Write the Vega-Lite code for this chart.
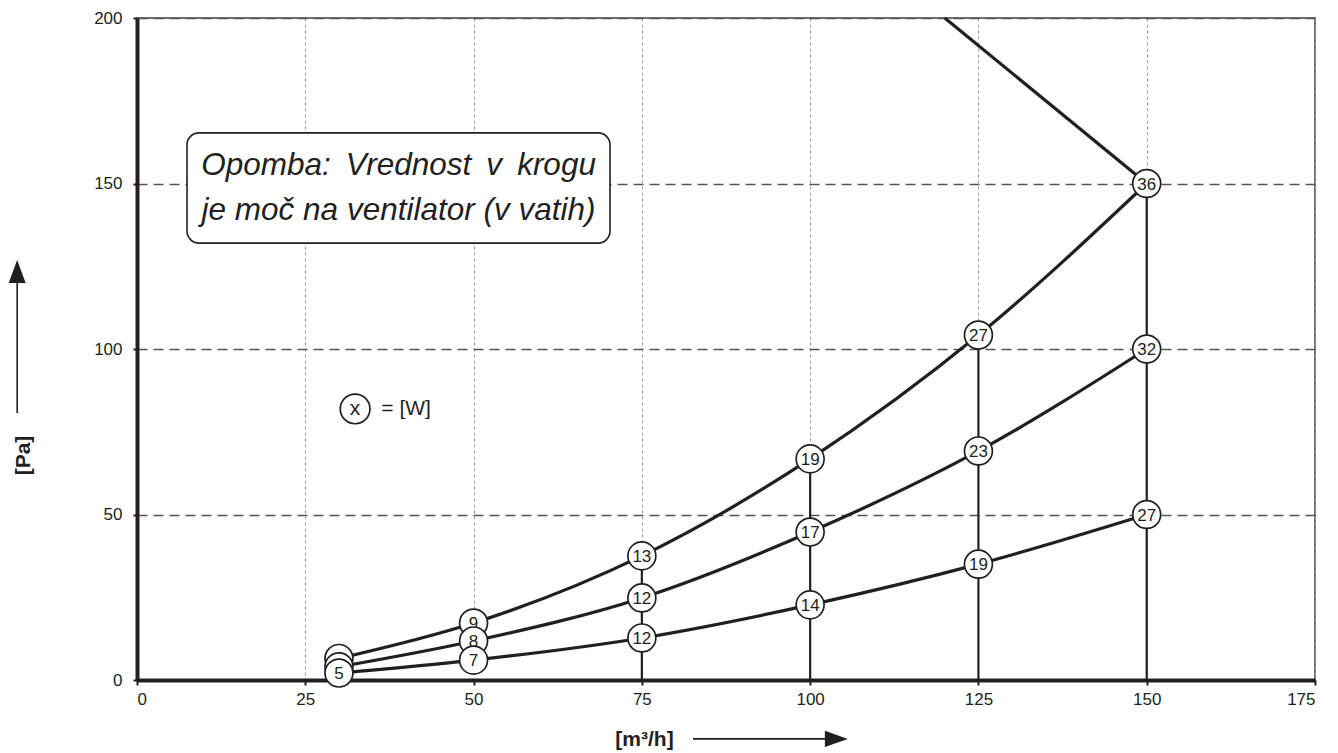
{
  "$schema": "https://vega.github.io/schema/vega-lite/v6.json",
  "width": 1178,
  "height": 662,
  "autosize": {"type": "none"},
  "padding": {"left": 137, "top": 18, "right": 23, "bottom": 73},
  "background": "white",
  "config": {
    "font": "Liberation Sans",
    "view": {"stroke": "#444444", "strokeWidth": 1.5}
  },
  "datasets": {
    "curves": [
      {"s": "a", "x": 30, "y": 6.5, "w": "6"},
      {"s": "a", "x": 50, "y": 17.2, "w": "9"},
      {"s": "a", "x": 75, "y": 37.5, "w": "13"},
      {"s": "a", "x": 100, "y": 66.8, "w": "19"},
      {"s": "a", "x": 125, "y": 104.2, "w": "27"},
      {"s": "a", "x": 150, "y": 150, "w": "36"},
      {"s": "b", "x": 30, "y": 4, "w": ""},
      {"s": "b", "x": 50, "y": 11.8, "w": "8"},
      {"s": "b", "x": 75, "y": 24.8, "w": "12"},
      {"s": "b", "x": 100, "y": 44.7, "w": "17"},
      {"s": "b", "x": 125, "y": 69.2, "w": "23"},
      {"s": "b", "x": 150, "y": 100, "w": "32"},
      {"s": "c", "x": 30, "y": 2.1, "w": "5"},
      {"s": "c", "x": 50, "y": 6, "w": "7"},
      {"s": "c", "x": 75, "y": 12.7, "w": "12"},
      {"s": "c", "x": 100, "y": 22.7, "w": "14"},
      {"s": "c", "x": 125, "y": 35, "w": "19"},
      {"s": "c", "x": 150, "y": 50, "w": "27"}
    ],
    "limit": [{"x": 120, "y": 200}, {"x": 150, "y": 150}],
    "verticals": [
      {"x": 75, "y": 0, "y2": 37.5},
      {"x": 100, "y": 0, "y2": 66.8},
      {"x": 125, "y": 0, "y2": 104.2},
      {"x": 150, "y": 0, "y2": 150}
    ],
    "box": [{"x": 7.43, "x2": 70.27, "y": 165.3, "y2": 132}],
    "note": [
      {"x": 38.85, "y": 152.6, "t": "Opomba: \u2009Vrednost \u2009v \u2009krogu"},
      {"x": 38.85, "y": 139, "t": "je moč na ventilator (v vatih)"}
    ],
    "legendCircle": [{"x": 32.4, "y": 81.9, "t": "x"}],
    "legendText": [{"x": 36.3, "y": 81.9, "t": "= [W]"}],
    "yArrowLine": [{"x": -17.8, "y": 80.7, "y2": 123.4}],
    "yArrowHead": [{"x": -17.8, "y": 123.4}],
    "xArrowLine": [{"x": 82.6, "x2": 103.9, "y": -17.8}],
    "xArrowHead": [{"x": 103.9, "y": -17.8}]
  },
  "encoding": {
    "x": {
      "field": "x", "type": "quantitative",
      "scale": {"domain": [0, 175], "nice": false, "zero": false},
      "axis": {
        "values": [0, 25, 50, 75, 100, 125, 150, 175],
        "grid": true, "gridColor": "#999999", "gridDash": [3, 3], "gridWidth": 1,
        "domainColor": "#231f20", "domainWidth": 4,
        "tickColor": "#231f20", "tickSize": 5, "tickWidth": 2,
        "labelFontSize": 17, "labelColor": "#231f20", "labelPadding": 6,
        "title": "[m³/h]", "titleFontSize": 21, "titleFontWeight": "bold", "titleColor": "#231f20",
        "titleX": 507, "titleY": 59, "titleBaseline": "middle", "titleAlign": "center"
      }
    },
    "y": {
      "field": "y", "type": "quantitative",
      "scale": {"domain": [0, 200], "nice": false, "zero": false},
      "axis": {
        "values": [0, 50, 100, 150, 200],
        "grid": true, "gridColor": "#555555", "gridDash": [10, 6], "gridWidth": 1.3,
        "domainColor": "#231f20", "domainWidth": 4,
        "tickColor": "#231f20", "tickSize": 4, "tickWidth": 2,
        "labelFontSize": 17, "labelColor": "#231f20", "labelPadding": 11,
        "title": "[Pa]", "titleFontSize": 21, "titleFontWeight": "bold", "titleColor": "#231f20",
        "titleX": -114, "titleY": 437, "titleBaseline": "middle", "titleAlign": "center", "titleAngle": -90
      }
    }
  },
  "layer": [
    {
      "data": {"name": "verticals"},
      "mark": {"type": "rule", "color": "#231f20", "strokeWidth": 2.2},
      "encoding": {"y2": {"field": "y2"}}
    },
    {
      "data": {"name": "curves"},
      "mark": {"type": "line", "interpolate": "monotone", "color": "#231f20", "strokeWidth": 3.2},
      "encoding": {"detail": {"field": "s"}}
    },
    {
      "data": {"name": "limit"},
      "mark": {"type": "line", "color": "#231f20", "strokeWidth": 3.2},
      "encoding": {}
    },
    {
      "data": {"name": "curves"},
      "transform": [{"filter": "datum.s === 'a'"}],
      "mark": {"type": "circle", "size": 780, "fill": "white", "stroke": "#231f20", "strokeWidth": 1.7, "opacity": 1}
    },
    {
      "data": {"name": "curves"},
      "transform": [{"filter": "datum.s === 'a'"}],
      "mark": {"type": "text", "fontSize": 17, "color": "#231f20", "align": "center", "baseline": "middle", "dy": 1},
      "encoding": {"text": {"field": "w"}}
    },
    {
      "data": {"name": "curves"},
      "transform": [{"filter": "datum.s === 'b'"}],
      "mark": {"type": "circle", "size": 780, "fill": "white", "stroke": "#231f20", "strokeWidth": 1.7, "opacity": 1}
    },
    {
      "data": {"name": "curves"},
      "transform": [{"filter": "datum.s === 'b'"}],
      "mark": {"type": "text", "fontSize": 17, "color": "#231f20", "align": "center", "baseline": "middle", "dy": 1},
      "encoding": {"text": {"field": "w"}}
    },
    {
      "data": {"name": "curves"},
      "transform": [{"filter": "datum.s === 'c'"}],
      "mark": {"type": "circle", "size": 780, "fill": "white", "stroke": "#231f20", "strokeWidth": 1.7, "opacity": 1}
    },
    {
      "data": {"name": "curves"},
      "transform": [{"filter": "datum.s === 'c'"}],
      "mark": {"type": "text", "fontSize": 17, "color": "#231f20", "align": "center", "baseline": "middle", "dy": 1},
      "encoding": {"text": {"field": "w"}}
    },
    {
      "data": {"name": "box"},
      "mark": {"type": "rect", "fill": "white", "stroke": "#231f20", "strokeWidth": 1.6, "cornerRadius": 12},
      "encoding": {"x2": {"field": "x2"}, "y2": {"field": "y2"}}
    },
    {
      "data": {"name": "note"},
      "mark": {"type": "text", "fontSize": 31.5, "fontStyle": "italic", "color": "#231f20", "align": "center", "baseline": "alphabetic"},
      "encoding": {"text": {"field": "t"}}
    },
    {
      "data": {"name": "legendCircle"},
      "mark": {"type": "circle", "size": 880, "fill": "white", "stroke": "#231f20", "strokeWidth": 1.7, "opacity": 1}
    },
    {
      "data": {"name": "legendCircle"},
      "mark": {"type": "text", "fontSize": 21, "color": "#231f20", "align": "center", "baseline": "middle"},
      "encoding": {"text": {"field": "t"}}
    },
    {
      "data": {"name": "legendText"},
      "mark": {"type": "text", "fontSize": 21, "color": "#231f20", "align": "left", "baseline": "middle"},
      "encoding": {"text": {"field": "t"}}
    },
    {
      "data": {"name": "yArrowLine"},
      "mark": {"type": "rule", "color": "#231f20", "strokeWidth": 1.6},
      "encoding": {"y2": {"field": "y2"}}
    },
    {
      "data": {"name": "yArrowHead"},
      "mark": {"type": "point", "shape": "M0,-1L0.74,1L-0.74,1Z", "size": 529, "filled": true, "fill": "#231f20", "strokeWidth": 0, "opacity": 1}
    },
    {
      "data": {"name": "xArrowLine"},
      "mark": {"type": "rule", "color": "#231f20", "strokeWidth": 1.6},
      "encoding": {"x2": {"field": "x2"}}
    },
    {
      "data": {"name": "xArrowHead"},
      "mark": {"type": "point", "shape": "M1,0L-1,-0.7L-1,0.7Z", "size": 529, "filled": true, "fill": "#231f20", "strokeWidth": 0, "opacity": 1}
    }
  ]
}
